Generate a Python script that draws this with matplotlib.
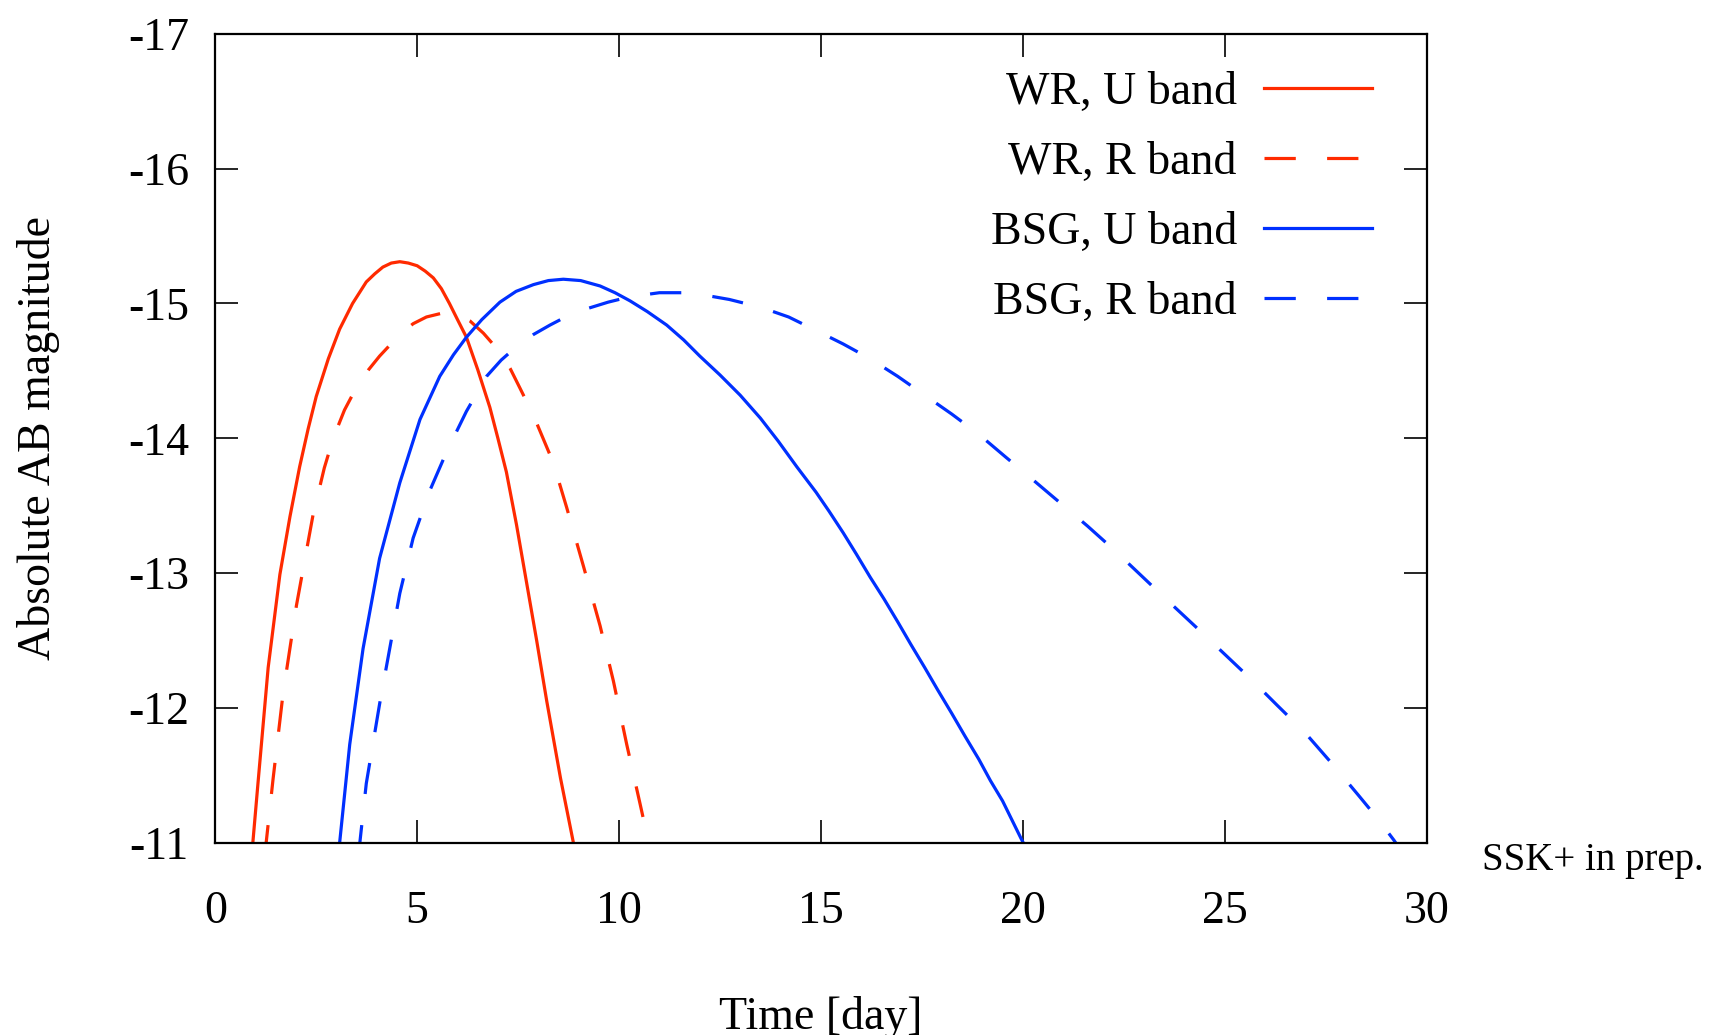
import matplotlib
matplotlib.use("Agg")
import matplotlib.pyplot as plt

plt.rcParams['font.family'] = ['Liberation Serif', 'DejaVu Serif']
plt.rcParams['axes.unicode_minus'] = False

RED = '#ff2a00'
BLUE = '#0030ff'

# WR, U band
wr_u_t = [0.90, 0.93, 1.06, 1.31, 1.60, 1.85, 2.09, 2.30, 2.50, 2.80, 3.08, 3.40, 3.74, 3.95,
          4.15, 4.36, 4.57, 4.78, 5.00, 5.20, 5.40, 5.60, 5.80, 6.00, 6.22, 6.50, 6.80,
          7.00, 7.21, 7.46, 7.71, 7.96, 8.21, 8.55, 8.87, 8.95]
wr_u_m = [-10.85, -11.00, -11.45, -12.30, -12.99, -13.42, -13.79, -14.07, -14.31, -14.59, -14.81, -15.00, -15.16, -15.22,
          -15.27, -15.30, -15.31, -15.30, -15.28, -15.24, -15.19, -15.11, -15.00, -14.88, -14.75, -14.51, -14.23,
          -14.00, -13.75, -13.36, -12.93, -12.50, -12.05, -11.48, -11.00, -10.86]

# WR, R band
wr_r_t = [1.24, 1.26, 1.43, 1.68, 2.01, 2.42, 2.70, 2.92, 3.20, 3.50, 3.80, 4.07, 4.57,
          4.90, 5.23, 5.64, 5.98, 6.31, 6.64, 7.05, 7.30, 7.55, 7.88, 8.37, 8.70, 9.12, 9.53,
          9.86, 10.19, 10.52, 10.69, 10.75]
wr_r_m = [-10.90, -11.00, -11.47, -12.11, -12.76, -13.43, -13.78, -14.00, -14.21, -14.38, -14.51, -14.61, -14.77,
          -14.85, -14.90, -14.93, -14.92, -14.87, -14.78, -14.64, -14.52, -14.37, -14.17, -13.82, -13.49, -13.05, -12.61,
          -12.20, -11.73, -11.29, -11.06, -10.97]

# BSG, U band
bsg_u_t = [3.05, 3.08, 3.33, 3.66, 4.07, 4.57, 5.07, 5.56, 5.90, 6.22, 6.60, 7.05, 7.45, 7.88,
           8.25, 8.62, 9.05, 9.53, 9.90, 10.27, 10.70, 11.18, 11.60, 12.00, 12.50, 13.00, 13.50,
           13.94, 14.40, 14.88, 15.20, 15.55, 15.88, 16.22, 16.56, 16.90, 17.23, 17.57, 17.90,
           18.24, 18.57, 18.91, 19.20, 19.50, 19.73, 19.96, 20.10]
bsg_u_m = [-10.90, -11.00, -11.73, -12.44, -13.11, -13.67, -14.14, -14.46, -14.62, -14.75, -14.88, -15.01, -15.09, -15.14,
           -15.17, -15.18, -15.17, -15.13, -15.08, -15.02, -14.94, -14.84, -14.73, -14.61, -14.47, -14.32, -14.15,
           -13.98, -13.79, -13.60, -13.46, -13.30, -13.14, -12.97, -12.81, -12.64, -12.47, -12.30, -12.13,
           -11.96, -11.79, -11.62, -11.46, -11.31, -11.17, -11.03, -10.95]

# BSG, R band
bsg_r_t = [3.56, 3.58, 3.74, 4.07, 4.32, 4.57, 4.90, 5.31, 5.73, 6.22, 6.72, 7.08, 7.46, 7.88, 8.29,
           8.74, 9.19, 9.73, 10.27, 11.00, 11.60, 12.16, 12.73, 13.53, 14.20, 14.88, 15.55, 16.22, 16.90,
           17.57, 18.24, 18.91, 19.58, 20.26, 20.93, 21.60, 22.27, 22.94, 23.61, 24.29,
           24.96, 25.63, 26.30, 26.98, 27.65, 28.32, 28.76, 29.19, 29.35]
bsg_r_m = [-10.90, -11.00, -11.44, -12.03, -12.44, -12.85, -13.26, -13.61, -13.90, -14.20, -14.46, -14.58, -14.68, -14.77, -14.84,
           -14.91, -14.96, -15.01, -15.05, -15.08, -15.08, -15.06, -15.03, -14.97, -14.90, -14.80, -14.70, -14.59, -14.46,
           -14.32, -14.18, -14.03, -13.86, -13.69, -13.52, -13.35, -13.17, -12.98, -12.79, -12.60,
           -12.41, -12.22, -12.02, -11.82, -11.59, -11.35, -11.19, -11.02, -10.95]

x_ticks = [0, 5, 10, 15, 20, 25, 30]
y_ticks = [-17, -16, -15, -14, -13, -12, -11]

fig = plt.figure(figsize=(17.14, 10.35), dpi=100)
ax = fig.add_axes([0.1256, 0.1857, 0.7067, 0.7816])

lw = 2.3
dash = (9.8, 9.8)
ax.plot(wr_u_t, wr_u_m, color=RED, lw=lw, label='WR, U band')
ax.plot(wr_r_t, wr_r_m, color=RED, lw=lw, dashes=dash, label='WR, R band')
ax.plot(bsg_u_t, bsg_u_m, color=BLUE, lw=lw, label='BSG, U band')
ax.plot(bsg_r_t, bsg_r_m, color=BLUE, lw=lw, dashes=dash, label='BSG, R band')

ax.set_xlim(0, 30)
ax.set_ylim(-11, -17)
ax.set_xticks(x_ticks)
ax.set_yticks(y_ticks)
ax.set_xticklabels([str(v) for v in x_ticks])
ax.set_yticklabels([str(v) for v in y_ticks])

for s in ax.spines.values():
    s.set_linewidth(1.6)
ax.tick_params(direction='in', length=16.5, width=1.2, top=True, right=True,
               labelsize=33)
ax.tick_params(axis='x', pad=34)
ax.tick_params(axis='y', pad=19)

ax.set_xlabel('Time [day]', fontsize=33)
ax.xaxis.set_label_coords(0.5, -0.189)
ax.set_ylabel('Absolute AB magnitude', fontsize=33)
ax.yaxis.set_label_coords(-0.128, 0.5)

ax.legend(loc='upper right', bbox_to_anchor=(0.9548, 0.954), frameon=False,
          fontsize=33, markerfirst=False, handlelength=2.345, handletextpad=0.6,
          labelspacing=0.60, borderpad=0, borderaxespad=0)

fig.text(1482 / 1714, 1 - 870 / 1035, 'SSK+ in prep.', fontsize=28, ha='left', va='baseline')

fig.savefig('out.png', dpi=100)
